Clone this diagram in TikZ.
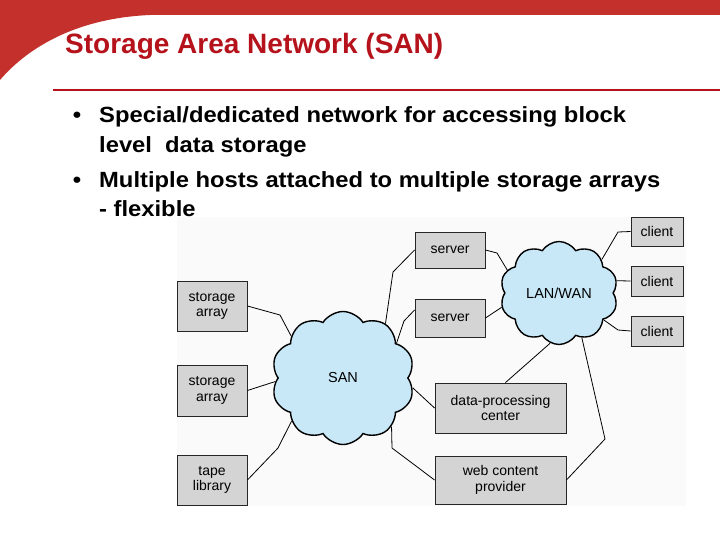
\documentclass[tikz,border=0pt]{standalone}
\usepackage{fontspec}
\setmainfont{Liberation Sans}
\newfontfamily\bulletfont[FakeStretch=1.08]{Liberation Sans}
\usetikzlibrary{positioning}
\usetikzlibrary{shapes.symbols}

\definecolor{slidered}{HTML}{C4302B}
\definecolor{titlered}{HTML}{B5121B}
\definecolor{boxgray}{HTML}{D4D4D4}
\definecolor{cloudblue}{HTML}{C8E8F8}

\begin{document}
\begin{tikzpicture}[
    x=1pt,
    y=-1pt,
    box/.style={draw=black!85, fill=boxgray, line width=0.9pt, align=center,
        inner sep=0pt, font=\fontsize{14}{15.5}\selectfont},
    net/.style={cloud, cloud puffs=10, cloud puff arc=115, cloud ignores aspect,
        draw=black, line width=1.4pt, fill=cloudblue, inner sep=0pt,
        font=\fontsize{14.5}{16}\selectfont},
    wire/.style={line width=0.8pt, black},
    bullettext/.style={anchor=base west, inner sep=0pt,
        font=\bulletfont\fontsize{22}{26}\bfseries\selectfont}
]
\useasboundingbox (0,0) rectangle (720,540);

% Slide header
\fill[slidered] (0,0) -- (720,0) -- (720,15) -- (150,15)
    .. controls (80,18) and (30,45) .. (0,80) -- cycle;
\node[anchor=base west, inner sep=0pt, text=titlered,
    font=\fontsize{28}{30}\bfseries\selectfont] (title) at (65,54)
    {Storage Area Network (SAN)};
\draw[titlered, line width=1.2pt] (53,90) -- (720,90);

% Bullets
\node[bullettext, anchor=base] (b1) at (77,123) {\textbullet};
\node[bullettext] (t1) at (99,123) {Special/dedicated network for accessing block};
\node[bullettext] (t2) at (99,153) {level\ \ data storage};
\node[bullettext, anchor=base] (b2) at (77,188) {\textbullet};
\node[bullettext] (t3) at (99,188) {Multiple hosts attached to multiple storage arrays};
\node[bullettext] (t4) at (99,216) {- flexible};

% Figure background
\fill[black!2] (177,217) rectangle (686,506);

% Clouds
\node[net, minimum width=143pt, minimum height=133pt] (san) at (343,378) {SAN};
\node[net, minimum width=118pt, minimum height=103pt] (lan) at (559,293) {LAN/WAN};

% Storage side
\node[box, minimum width=70pt, minimum height=50pt] (sa1) at (212,306) {storage\\array};
\node[box, minimum width=70pt, minimum height=51pt] (sa2) at (212,390.5) {storage\\array};
\node[box, minimum width=70pt, minimum height=50pt] (tape) at (212,480) {tape\\library};

% Hosts
\node[box, minimum width=70pt, minimum height=36pt] (srv1) at (450,250) {server};
\node[box, minimum width=70pt, minimum height=38pt] (srv2) at (450,318) {server};
\node[box, minimum width=131pt, minimum height=50pt] (dp) at (500.5,408) {data-processing\\center};
\node[box, minimum width=131pt, minimum height=48pt] (web) at (500.5,480) {web content\\provider};

% Clients
\node[box, minimum width=52pt, minimum height=29pt] (cl1) at (657,231.5) {client};
\node[box, minimum width=52pt, minimum height=30pt] (cl2) at (657,281) {client};
\node[box, minimum width=52pt, minimum height=30pt] (cl3) at (657,331) {client};

% Links to the SAN
\draw[wire] (sa1.east) -- (280,315) -- (san.141);
\draw[wire] (sa2.east) -- (san.183);
\draw[wire] (tape.east) -- (278,448) -- (san.220);
\draw[wire] (srv1.west) -- (393,272) -- (san.52);
\draw[wire] ([yshift=8pt]srv2.west) -- (404,321) -- (san.33);
\draw[wire] (dp.west) -- (san.352);
\draw[wire] (web.west) -- (392,448) -- (san.315);

% Links to the LAN/WAN
\draw[wire] (srv1.east) -- (497,253) -- (lan.156);
\draw[wire] (srv2.east) -- (lan.194);
\draw[wire] (cl1.west) -- (618,232) -- (lan.38);
\draw[wire] (cl2.west) -- (lan.12);
\draw[wire] (cl3.west) -- (618,330) -- (lan.329);
\draw[wire] ([xshift=5pt]dp.north) -- (lan.260);
\draw[wire] (web.east) -- (605,439) -- (lan.297);
\end{tikzpicture}
\end{document}
